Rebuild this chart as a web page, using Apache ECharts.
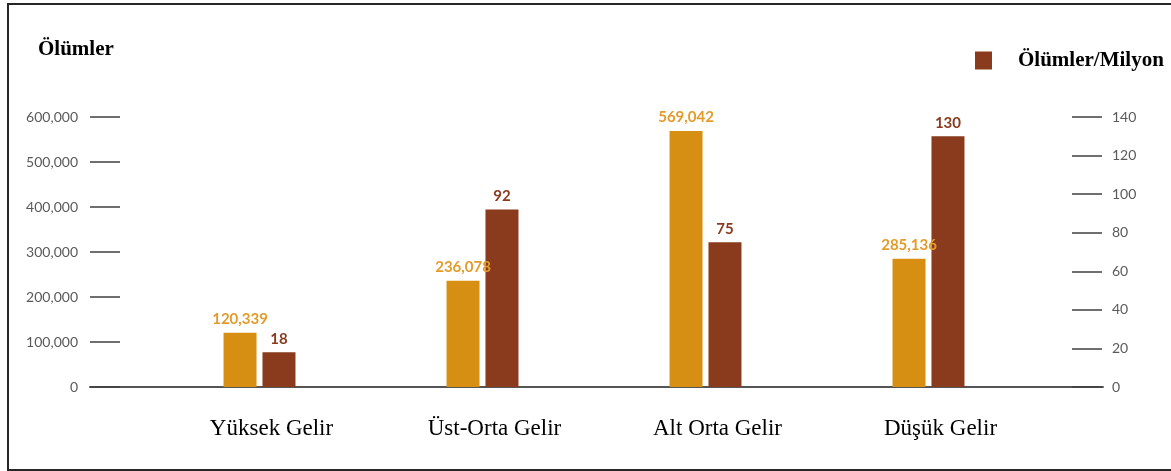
<!DOCTYPE html>
<html>
<head>
<meta charset="utf-8">
<script src="https://cdn.jsdelivr.net/npm/echarts@6/dist/echarts.min.js"></script>
<style>
html, body { margin: 0; padding: 0; background: #ffffff; }
#frame {
    position: absolute;
    left: 7px; top: 3px;
    width: 1180px; height: 464px;
    border: 2px solid #262626;
}
#chart { position: absolute; left: 0; top: 0; width: 1171px; height: 471px; }
</style>
</head>
<body>
<div id="frame"></div>
<div id="chart"></div>
<script>
// kategoriler ve seriler
var categories = ['Yüksek Gelir', 'Üst-Orta Gelir', 'Alt Orta Gelir', 'Düşük Gelir'];
var deaths = [120339, 236078, 569042, 285136];      // Ölümler
var deathsPerMillion = [18, 92, 75, 130];           // Ölümler/Milyon
var leftMax = 600000, leftStep = 100000;
var rightMax = 140, rightStep = 20;

var orange = '#d68f13';
var brown = '#8a3b1e';

var myChart = echarts.init(document.getElementById('chart'), null, { renderer: 'canvas' });

myChart.setOption({
    animation: false,
    title: {
        text: 'Ölümler',
        left: 33,
        top: 34,
        textStyle: { fontFamily: 'Liberation Serif', fontWeight: 'bold', fontSize: 21, color: '#000' }
    },
    legend: {
        data: ['Ölümler/Milyon'],
        left: 970,
        top: 45,
        icon: 'rect',
        itemWidth: 17,
        itemHeight: 18,
        itemGap: 0,
        textStyle: {
            fontFamily: 'Liberation Serif', fontWeight: 'bold', fontSize: 21, color: '#000',
            padding: [0, 0, 5, 21]
        }
    },
    grid: [
        { left: 148, right: 131, top: 117, bottom: 84 },
        // only for the long base line
        { left: 90, right: 68, top: 117, bottom: 84 }
    ],
    xAxis: [
        {
            type: 'category',
            gridIndex: 0,
            data: categories,
            axisLine: { show: false },
            axisTick: { show: false },
            axisLabel: {
                margin: 30,
                padding: [0, 0, 0, 24],
                fontFamily: 'Liberation Serif',
                fontSize: 23,
                color: '#000'
            }
        },
        {
            type: 'value',
            gridIndex: 1,
            min: 0, max: 1,
            axisLine: { show: true, onZero: false, lineStyle: { color: '#555555', width: 2 } },
            axisTick: { show: false },
            axisLabel: { show: false },
            splitLine: { show: false }
        }
    ],
    yAxis: [
        {
            type: 'value',
            gridIndex: 0,
            position: 'left',
            offset: 58,
            min: 0, max: leftMax, interval: leftStep,
            axisLine: { show: false },
            axisTick: { show: true, inside: true, length: 30, lineStyle: { color: '#404040', width: 1.5 } },
            axisLabel: {
                margin: 12,
                fontFamily: 'Lato',
                fontSize: 14,
                color: '#5a5a5a',
                formatter: function (v) { return v.toLocaleString('en-US'); }
            },
            splitLine: { show: false }
        },
        {
            type: 'value',
            gridIndex: 0,
            position: 'right',
            offset: 62,
            min: 0, max: rightMax, interval: rightStep,
            axisLine: { show: false },
            axisTick: { show: true, inside: true, length: 30, lineStyle: { color: '#404040', width: 1.5 } },
            axisLabel: {
                margin: 10,
                fontFamily: 'Lato',
                fontSize: 14,
                color: '#5a5a5a'
            },
            splitLine: { show: false }
        },
        {
            type: 'value',
            gridIndex: 1,
            min: 0, max: 1,
            show: false
        }
    ],
    series: [
        {
            name: 'Ölümler',
            type: 'bar',
            xAxisIndex: 0,
            yAxisIndex: 0,
            data: deaths,
            barWidth: 33,
            barGap: '18%',
            itemStyle: { color: orange },
            label: {
                show: true,
                position: 'top',
                distance: 6,
                fontFamily: 'Lato',
                fontWeight: 'bold',
                fontSize: 15,
                color: '#e39b2c',
                formatter: function (p) { return p.value.toLocaleString('en-US'); }
            }
        },
        {
            name: 'Ölümler/Milyon',
            type: 'bar',
            xAxisIndex: 0,
            yAxisIndex: 1,
            data: deathsPerMillion,
            barWidth: 33,
            barGap: '18%',
            itemStyle: { color: brown },
            label: {
                show: true,
                position: 'top',
                distance: 6,
                fontFamily: 'Lato',
                fontWeight: 'bold',
                fontSize: 15,
                color: '#8a3b1e'
            }
        }
    ]
});
</script>
</body>
</html>
